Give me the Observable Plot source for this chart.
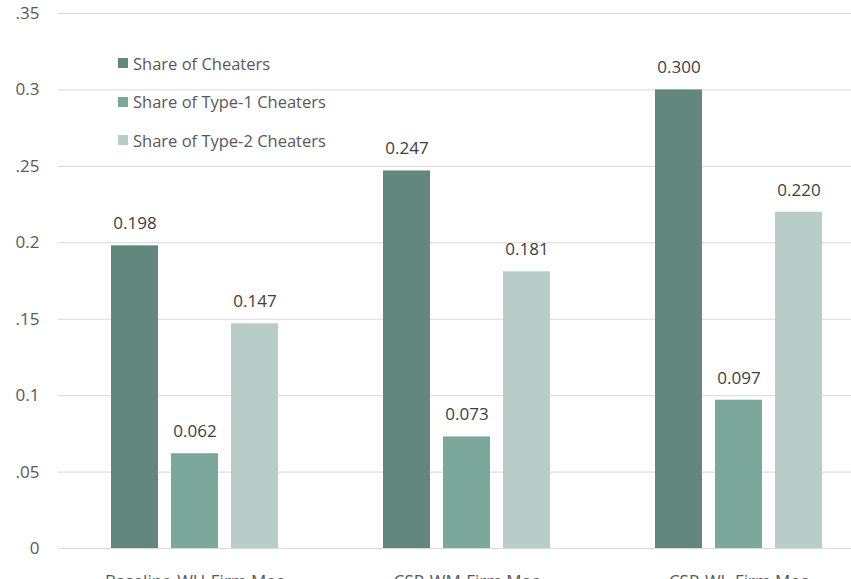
<!DOCTYPE html>
<html>
<head>
<meta charset="utf-8">
<script src="https://cdn.jsdelivr.net/npm/d3@7"></script>
<script src="https://cdn.jsdelivr.net/npm/@observablehq/plot@0.6"></script>
<style>
  html, body { margin: 0; padding: 0; background: #fff; overflow: hidden; width: 851px; height: 579px; }
  #wrap { position: relative; width: 851px; height: 579px; overflow: hidden; }
  #chart svg { max-width: none !important; }
  #legend { position: absolute; left: 118px; top: 51px; font-family: "Open Sans", sans-serif; font-size: 16.5px; color: #595959; }
  .row { display: flex; align-items: center; height: 24px; margin-bottom: 14.5px; white-space: nowrap; }
  .sw { width: 10px; height: 10px; margin-right: 5px; }
</style>
</head>
<body>
<div id="wrap"><div id="chart"></div><div id="legend"></div></div>
<script>
const groups = ["Baseline-WH-Firm Mec", "CSR-WM-Firm Mec", "CSR-WL-Firm Mec"];
const series = ["Share of Cheaters", "Share of Type-1 Cheaters", "Share of Type-2 Cheaters"];
const shareCheaters = [0.198, 0.247, 0.300];
const shareType1 = [0.062, 0.073, 0.097];
const shareType2 = [0.147, 0.181, 0.220];
const yTicks = [0, 0.05, 0.1, 0.15, 0.2, 0.25, 0.3, 0.35];
const yTickLabels = ["0", ".05", "0.1", ".15", "0.2", ".25", "0.3", ".35"];
const colors = ["#62887d", "#7ba89b", "#b8cdc8"];

const valuesBySeries = [shareCheaters, shareType1, shareType2];
const data = [];
groups.forEach((g, gi) => {
  series.forEach((s, si) => {
    data.push({group: g, series: s, value: valuesBySeries[si][gi]});
  });
});

const chart = Plot.plot({
  width: 874,
  height: 600,
  marginLeft: 58,
  marginRight: 0,
  marginTop: 13,
  marginBottom: 52,
  style: {fontFamily: "Open Sans, sans-serif", fontSize: "17px", color: "#595959", background: "transparent", maxWidth: "none"},
  fx: {domain: groups, padding: 0, tickSize: 0, tickPadding: 26, label: null},
  x: {domain: series, axis: null, paddingInner: 0.223, paddingOuter: 0.86},
  y: {domain: [0, 0.35], ticks: yTicks, tickFormat: (d) => yTickLabels[yTicks.indexOf(d)], tickSize: 0, tickPadding: 19, label: null},
  color: {domain: series, range: colors},
  marks: [
    Plot.ruleY(yTicks, {stroke: "#d9d9d9", strokeWidth: 1}),
    Plot.barY(data, {fx: "group", x: "series", y: "value", fill: "series"}),
    Plot.text(data, {fx: "group", x: "series", y: "value", text: (d) => d.value.toFixed(3), dy: -22, fill: "#404040", fontSize: 17})
  ]
});
document.getElementById("chart").appendChild(chart);

const legend = document.getElementById("legend");
series.forEach((s, i) => {
  const row = document.createElement("div");
  row.className = "row";
  const sw = document.createElement("div");
  sw.className = "sw";
  sw.style.background = colors[i];
  const t = document.createElement("span");
  t.textContent = s;
  row.appendChild(sw);
  row.appendChild(t);
  legend.appendChild(row);
});
</script>
</body>
</html>
